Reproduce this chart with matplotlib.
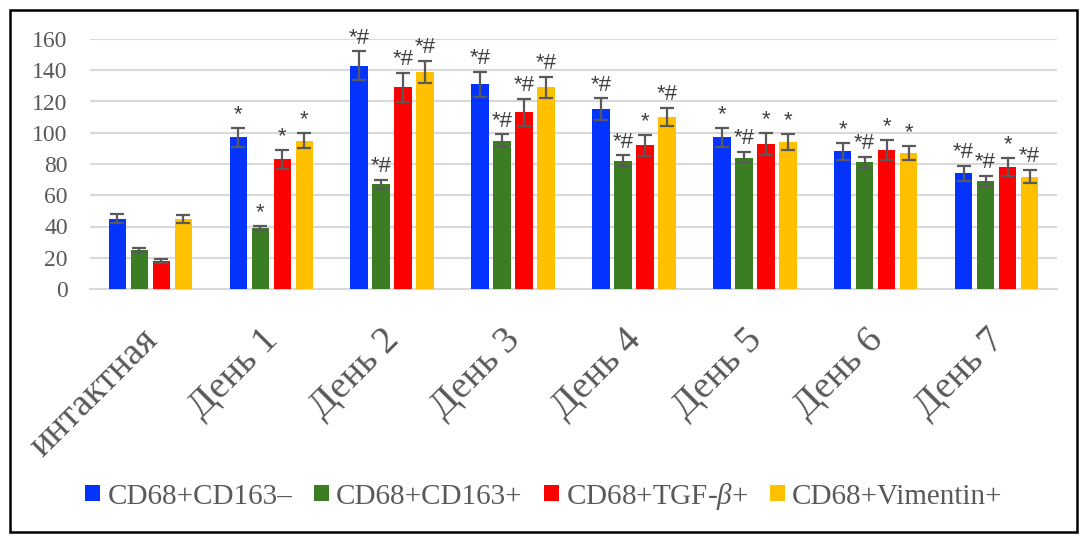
import numpy as np
import matplotlib
matplotlib.use('Agg')
import matplotlib.pyplot as plt
import matplotlib.transforms as mtransforms
from matplotlib.patches import Rectangle

plt.rcParams['mathtext.fontset'] = 'custom'
plt.rcParams['mathtext.it'] = 'Liberation Serif:italic'
plt.rcParams['mathtext.rm'] = 'Liberation Serif'

# данные
groups = ['интактная', 'День 1', 'День 2', 'День 3', 'День 4', 'День 5', 'День 6', 'День 7']
series = ['CD68+CD163–', 'CD68+CD163+', 'CD68+TGF-$\\beta$+', 'CD68+Vimentin+']
colors = ['#0433FF', '#3B7D23', '#FF0000', '#FFC000']

cd163_neg = [45, 97, 143, 131, 115, 97, 88, 74]
cd163_pos = [25, 39, 67, 95, 82, 84, 81, 69]
tgf_b = [18, 83, 129, 113, 92, 93, 89, 78]
vimentin = [45, 95, 139, 129, 110, 94, 87, 72]

err_cd163_neg = [3, 6, 9, 8, 7, 6, 5.5, 4.8]
err_cd163_pos = [1.5, 1.5, 3, 4, 3.5, 3.6, 3.5, 3.2]
err_tgf_b = [1.5, 6, 9.5, 8.5, 6.7, 7, 6.6, 5.7]
err_vimentin = [2.5, 5, 7, 6.7, 5.7, 5, 4.5, 4]

marks_cd163_neg = ['', '*', '*#', '*#', '*#', '*', '*', '*#']
marks_cd163_pos = ['', '*', '*#', '*#', '*#', '*#', '*#', '*#']
marks_tgf_b = ['', '*', '*#', '*#', '*', '*', '*', '*']
marks_vimentin = ['', '*', '*#', '*#', '*#', '*', '*', '*#']

values = [cd163_neg, cd163_pos, tgf_b, vimentin]
errors = [err_cd163_neg, err_cd163_pos, err_tgf_b, err_vimentin]
marks = [marks_cd163_neg, marks_cd163_pos, marks_tgf_b, marks_vimentin]

serif = ['Liberation Serif', 'DejaVu Serif']
grey = '#595959'

fig = plt.figure(figsize=(10.82, 5.36), dpi=100)
ax = fig.add_axes([90 / 1082, 1 - 289 / 536, 967 / 1082, 250 / 536])

x = np.arange(len(groups))
step = 0.182
width = 0.145
for i in range(4):
    pos = x + (i - 1.5) * step
    ax.bar(pos, values[i], width, color=colors[i], label=series[i], zorder=3)
    ax.errorbar(pos, values[i], yerr=errors[i], fmt='none', ecolor=grey,
                elinewidth=1.6, capsize=5, capthick=1.6, zorder=4)
    for xp, v, e, m in zip(pos, values[i], errors[i], marks[i]):
        if m:
            ax.annotate(m, (xp, v + e), xytext=(0, 2), textcoords='offset points',
                        ha='center', va='bottom', fontsize=16, color='#404040',
                        family=['Liberation Sans', 'DejaVu Sans'], annotation_clip=False)

ax.set_xlim(-0.5, len(groups) - 0.5)
ax.set_ylim(0, 160)
ax.set_yticks(range(0, 161, 20))
ax.yaxis.grid(True, color='#d9d9d9', linewidth=1.5, zorder=0)
ax.set_axisbelow(True)
for s in ['top', 'right', 'left']:
    ax.spines[s].set_visible(False)
ax.spines['bottom'].set_color('#d9d9d9')
ax.spines['bottom'].set_linewidth(1.5)
ax.tick_params(axis='both', length=0, colors=grey)
ax.tick_params(axis='y', pad=16, labelsize=17)
ax.tick_params(axis='x', pad=24, labelsize=27.5)
for lab in ax.get_yticklabels():
    lab.set_family(serif)

ax.set_xticks(x)
ax.set_xticklabels(groups, rotation=45, ha='right', family=serif)
offset = mtransforms.ScaledTranslation(14 / 100, 0, fig.dpi_scale_trans)
for lab in ax.get_xticklabels():
    lab.set_transform(lab.get_transform() + offset)

leg = fig.legend(loc='center', bbox_to_anchor=(544 / 1082, 1 - 496 / 536), ncol=4,
                 frameon=False, prop={'family': serif, 'size': 21},
                 handlelength=0.5, handleheight=0.5, handletextpad=0.25,
                 columnspacing=0.75, borderaxespad=0)
for t in leg.get_texts():
    t.set_color(grey)

# рамка вокруг рисунка
fig.patches.append(Rectangle((10 / 1082, 4 / 536), 1067 / 1082, 522 / 536,
                             transform=fig.transFigure, fill=False,
                             edgecolor='black', linewidth=1.8))

fig.savefig('out.png', dpi=100)
